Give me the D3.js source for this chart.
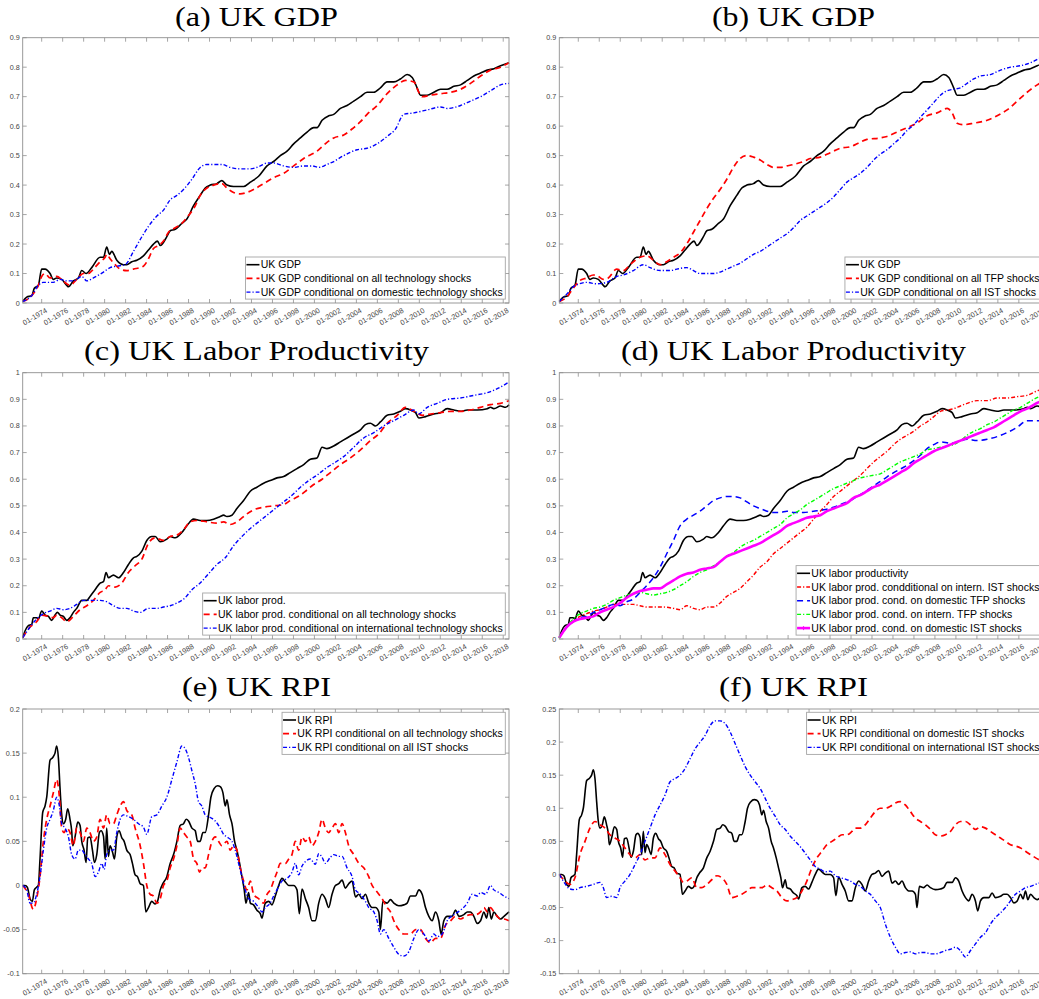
<!DOCTYPE html>
<html>
<head>
<meta charset="utf-8">
<script src="https://cdn.jsdelivr.net/npm/d3@7"></script>
<style>
  body { margin: 0; background: #fff; }
  svg { display: block; }
</style>
</head>
<body>
<div id="vis"></div>
<script>
// x tick years (labels are "01-YYYY")
const tickYears = [1974,1976,1978,1980,1982,1984,1986,1988,1990,1992,1994,1996,1998,2000,2002,2004,2006,2008,2010,2012,2014,2016,2018]

// [decimal year, value]
const gdpUK = [[1972.19,0.005],[1972.57,0.02],[1973.05,0.025],[1973.30,0.05],[1973.68,0.06],[1974.00,0.115],[1974.32,0.115],[1974.80,0.10],[1975.11,0.08],[1975.43,0.085],[1975.91,0.08],[1976.39,0.06],[1976.55,0.055],[1977.02,0.075],[1977.50,0.085],[1977.82,0.11],[1978.23,0.10],[1978.77,0.12],[1979.57,0.155],[1979.89,0.155],[1980.20,0.19],[1980.46,0.165],[1980.68,0.175],[1981.16,0.145],[1981.80,0.13],[1982.11,0.13],[1982.59,0.14],[1983.07,0.145],[1983.70,0.16],[1984.18,0.18],[1984.66,0.20],[1985.04,0.21],[1985.30,0.195],[1985.93,0.225],[1986.25,0.245],[1986.73,0.25],[1987.36,0.27],[1987.84,0.285],[1988.48,0.33],[1989.11,0.365],[1989.59,0.39],[1990.07,0.40],[1990.70,0.405],[1991.18,0.415],[1991.66,0.40],[1992.29,0.395],[1993.25,0.395],[1993.89,0.41],[1994.68,0.43],[1995.48,0.465],[1996.11,0.48],[1996.75,0.50],[1997.39,0.515],[1998.02,0.54],[1998.66,0.56],[1999.30,0.58],[1999.93,0.595],[2000.25,0.595],[2000.73,0.62],[2001.36,0.635],[2001.84,0.64],[2002.48,0.66],[2003.11,0.67],[2003.75,0.685],[2004.39,0.70],[2005.02,0.715],[2005.66,0.715],[2006.29,0.73],[2006.93,0.75],[2007.57,0.75],[2008.20,0.76],[2008.84,0.775],[2009.32,0.765],[2009.79,0.73],[2010.11,0.705],[2010.75,0.705],[2011.39,0.715],[2012.02,0.725],[2012.66,0.725],[2013.29,0.735],[2013.93,0.74],[2014.57,0.755],[2015.20,0.77],[2015.84,0.78],[2016.48,0.79],[2017.11,0.795],[2017.75,0.805],[2018.55,0.815]]
const gdpAllTech = [[1972.19,0.005],[1973.05,0.025],[1973.68,0.06],[1974.00,0.09],[1974.32,0.10],[1974.80,0.085],[1975.43,0.09],[1975.91,0.08],[1976.39,0.065],[1976.70,0.06],[1977.34,0.08],[1977.98,0.10],[1978.45,0.10],[1978.93,0.115],[1979.57,0.14],[1980.05,0.155],[1980.20,0.165],[1980.52,0.15],[1981.00,0.13],[1981.48,0.115],[1982.11,0.11],[1982.75,0.115],[1983.70,0.125],[1984.18,0.15],[1984.66,0.185],[1985.14,0.195],[1985.61,0.21],[1986.09,0.24],[1986.73,0.255],[1987.36,0.27],[1987.84,0.29],[1988.64,0.33],[1989.11,0.365],[1989.75,0.39],[1990.39,0.40],[1991.18,0.405],[1991.66,0.39],[1992.29,0.375],[1992.93,0.37],[1993.57,0.375],[1994.20,0.385],[1995.16,0.405],[1996.11,0.425],[1997.07,0.44],[1998.02,0.465],[1998.98,0.49],[2000.25,0.515],[2001.20,0.545],[2001.84,0.56],[2002.79,0.57],[2003.75,0.595],[2004.39,0.615],[2005.02,0.64],[2005.98,0.67],[2006.93,0.71],[2007.89,0.74],[2008.68,0.755],[2009.48,0.75],[2009.95,0.715],[2010.27,0.70],[2011.07,0.705],[2012.02,0.71],[2012.98,0.715],[2013.93,0.725],[2014.88,0.745],[2015.84,0.77],[2016.79,0.79],[2017.75,0.80],[2018.55,0.815]]
const gdpDomTech = [[1972.19,0.005],[1973.05,0.025],[1973.68,0.06],[1974.16,0.07],[1975.11,0.07],[1975.75,0.08],[1976.39,0.075],[1977.02,0.075],[1977.82,0.09],[1978.30,0.075],[1978.93,0.085],[1979.89,0.105],[1980.52,0.12],[1981.16,0.125],[1981.95,0.13],[1982.75,0.175],[1983.39,0.215],[1984.18,0.26],[1984.98,0.295],[1985.61,0.315],[1986.25,0.35],[1986.89,0.365],[1987.52,0.385],[1988.32,0.42],[1989.11,0.46],[1989.75,0.47],[1990.55,0.47],[1991.18,0.47],[1991.98,0.46],[1992.93,0.455],[1993.89,0.455],[1994.84,0.465],[1995.48,0.475],[1996.11,0.475],[1997.07,0.465],[1998.02,0.46],[1998.98,0.465],[1999.77,0.465],[2000.41,0.46],[2001.20,0.47],[2001.84,0.48],[2002.79,0.50],[2004.07,0.52],[2005.02,0.525],[2005.98,0.54],[2006.93,0.565],[2007.73,0.59],[2008.52,0.64],[2009.48,0.645],[2010.75,0.655],[2012.02,0.665],[2012.66,0.66],[2013.93,0.67],[2014.88,0.685],[2015.84,0.70],[2016.79,0.72],[2017.75,0.74],[2018.55,0.745]]
const gdpTfp = [[1972.19,0.005],[1972.89,0.02],[1973.52,0.05],[1974.10,0.075],[1974.80,0.085],[1975.43,0.095],[1975.91,0.09],[1976.39,0.08],[1976.86,0.085],[1977.66,0.115],[1978.30,0.11],[1978.93,0.13],[1979.89,0.155],[1980.52,0.16],[1981.16,0.145],[1981.80,0.13],[1982.43,0.14],[1983.07,0.155],[1983.70,0.17],[1984.34,0.20],[1984.98,0.24],[1985.61,0.28],[1986.25,0.32],[1986.89,0.355],[1987.52,0.385],[1988.16,0.42],[1988.79,0.46],[1989.43,0.49],[1990.07,0.50],[1990.70,0.495],[1991.34,0.485],[1991.98,0.47],[1992.61,0.46],[1993.25,0.46],[1993.89,0.465],[1994.52,0.47],[1995.48,0.48],[1996.11,0.49],[1997.07,0.495],[1998.02,0.51],[1998.98,0.525],[1999.93,0.53],[2000.57,0.54],[2001.52,0.555],[2002.79,0.56],[2003.43,0.565],[2004.39,0.58],[2005.34,0.595],[2006.29,0.61],[2007.25,0.635],[2008.20,0.645],[2009.16,0.66],[2009.64,0.645],[2010.11,0.61],[2010.75,0.605],[2011.70,0.61],[2012.98,0.62],[2013.93,0.635],[2014.88,0.655],[2015.84,0.685],[2016.79,0.715],[2017.75,0.74],[2018.55,0.755]]
const gdpIst = [[1972.19,0.005],[1972.89,0.03],[1973.52,0.055],[1974.10,0.065],[1974.80,0.07],[1975.75,0.065],[1976.70,0.07],[1977.66,0.09],[1978.30,0.095],[1979.25,0.11],[1980.20,0.13],[1980.84,0.12],[1981.80,0.11],[1982.75,0.11],[1983.39,0.115],[1984.34,0.12],[1984.98,0.11],[1985.61,0.10],[1986.25,0.10],[1986.89,0.10],[1987.52,0.105],[1988.16,0.115],[1988.79,0.125],[1989.43,0.135],[1990.07,0.15],[1990.70,0.165],[1991.34,0.175],[1991.98,0.19],[1992.61,0.205],[1993.25,0.22],[1993.89,0.235],[1994.52,0.255],[1995.16,0.28],[1995.79,0.295],[1996.43,0.31],[1997.07,0.325],[1997.70,0.34],[1998.34,0.36],[1998.98,0.385],[1999.61,0.41],[2000.25,0.425],[2000.89,0.44],[2001.52,0.46],[2002.16,0.485],[2002.79,0.505],[2003.43,0.52],[2004.07,0.54],[2004.70,0.56],[2005.34,0.585],[2005.98,0.605],[2006.61,0.63],[2007.25,0.655],[2007.89,0.68],[2008.52,0.705],[2009.16,0.72],[2009.79,0.725],[2010.43,0.73],[2011.07,0.745],[2011.70,0.76],[2012.34,0.77],[2013.29,0.775],[2014.25,0.79],[2015.20,0.80],[2016.16,0.805],[2017.11,0.815],[2017.97,0.83],[2018.55,0.84]]

const lpUK = [[1972.19,0.005],[1972.41,0.03],[1972.73,0.05],[1973.05,0.055],[1973.20,0.08],[1973.52,0.08],[1973.68,0.075],[1974.00,0.105],[1974.32,0.09],[1974.64,0.085],[1974.95,0.07],[1975.27,0.09],[1975.50,0.10],[1975.75,0.09],[1976.07,0.085],[1976.39,0.07],[1976.70,0.08],[1977.02,0.10],[1977.34,0.115],[1977.82,0.145],[1978.30,0.145],[1978.61,0.16],[1979.09,0.185],[1979.57,0.21],[1979.89,0.215],[1980.14,0.25],[1980.36,0.23],[1980.84,0.24],[1981.32,0.23],[1981.80,0.25],[1982.27,0.28],[1982.75,0.305],[1983.07,0.31],[1983.55,0.33],[1984.02,0.37],[1984.50,0.385],[1984.82,0.385],[1985.30,0.365],[1985.93,0.375],[1986.25,0.385],[1986.73,0.38],[1987.36,0.40],[1987.84,0.425],[1988.48,0.45],[1989.11,0.445],[1989.75,0.445],[1990.39,0.45],[1991.02,0.46],[1991.34,0.465],[1991.66,0.46],[1992.14,0.465],[1992.61,0.49],[1993.25,0.52],[1993.89,0.555],[1994.52,0.57],[1995.16,0.585],[1995.79,0.595],[1996.43,0.605],[1997.07,0.61],[1997.70,0.625],[1998.34,0.64],[1998.98,0.655],[1999.61,0.675],[2000.25,0.68],[2000.73,0.72],[2001.20,0.715],[2001.84,0.725],[2002.48,0.74],[2003.11,0.755],[2003.75,0.77],[2004.39,0.785],[2004.86,0.805],[2005.34,0.81],[2005.82,0.80],[2006.29,0.815],[2006.93,0.84],[2007.57,0.845],[2008.20,0.855],[2008.68,0.865],[2009.16,0.86],[2009.64,0.85],[2009.95,0.83],[2010.59,0.835],[2011.39,0.845],[2012.02,0.85],[2012.66,0.865],[2013.29,0.86],[2013.93,0.855],[2014.57,0.86],[2015.52,0.86],[2016.48,0.865],[2016.79,0.87],[2017.11,0.865],[2017.75,0.875],[2018.23,0.87],[2018.55,0.88]]
const lpAllTech = [[1972.19,0.005],[1972.89,0.045],[1973.52,0.065],[1974.00,0.09],[1974.64,0.085],[1975.11,0.08],[1975.43,0.09],[1975.91,0.08],[1976.39,0.065],[1977.02,0.085],[1977.66,0.11],[1978.30,0.125],[1978.93,0.145],[1979.57,0.175],[1980.05,0.185],[1980.36,0.20],[1981.00,0.195],[1981.64,0.21],[1982.27,0.25],[1982.91,0.275],[1983.55,0.30],[1984.18,0.36],[1984.82,0.38],[1985.61,0.37],[1986.25,0.385],[1986.89,0.39],[1987.52,0.41],[1988.16,0.44],[1988.79,0.445],[1989.75,0.44],[1990.70,0.435],[1991.34,0.44],[1991.98,0.43],[1992.61,0.44],[1993.57,0.47],[1994.20,0.485],[1995.16,0.495],[1996.11,0.50],[1997.07,0.505],[1997.70,0.52],[1998.66,0.54],[1999.30,0.56],[1999.93,0.58],[2000.73,0.60],[2001.52,0.625],[2002.48,0.655],[2003.43,0.68],[2004.39,0.71],[2005.34,0.745],[2006.14,0.77],[2006.93,0.81],[2007.89,0.84],[2008.68,0.87],[2009.48,0.855],[2010.27,0.84],[2011.07,0.845],[2012.02,0.85],[2012.98,0.855],[2013.93,0.855],[2014.88,0.86],[2015.84,0.87],[2016.79,0.88],[2017.75,0.885],[2018.55,0.895]]
const lpIntlTech = [[1972.19,0.005],[1972.89,0.045],[1973.52,0.075],[1974.16,0.095],[1974.80,0.105],[1975.43,0.115],[1976.07,0.11],[1976.70,0.115],[1977.34,0.13],[1977.98,0.145],[1978.61,0.145],[1979.57,0.145],[1980.20,0.14],[1980.84,0.125],[1981.48,0.115],[1982.11,0.115],[1982.75,0.105],[1983.39,0.10],[1984.18,0.115],[1984.98,0.115],[1985.61,0.12],[1986.25,0.125],[1986.89,0.135],[1987.68,0.155],[1988.32,0.185],[1989.11,0.21],[1989.91,0.245],[1990.70,0.28],[1991.50,0.305],[1992.29,0.35],[1993.09,0.385],[1993.89,0.415],[1994.68,0.44],[1995.48,0.465],[1996.27,0.49],[1997.07,0.515],[1997.86,0.54],[1998.66,0.57],[1999.45,0.595],[2000.25,0.615],[2001.04,0.64],[2001.84,0.66],[2002.79,0.685],[2003.75,0.72],[2004.70,0.755],[2005.66,0.775],[2006.61,0.80],[2007.57,0.82],[2008.52,0.84],[2009.48,0.86],[2009.95,0.845],[2010.75,0.87],[2011.70,0.885],[2012.66,0.90],[2013.93,0.905],[2015.20,0.915],[2016.48,0.925],[2017.43,0.94],[2018.55,0.965]]
const lpIntlIst = [[1972.19,0.005],[1972.89,0.045],[1973.52,0.065],[1974.16,0.085],[1974.80,0.095],[1975.43,0.105],[1976.07,0.11],[1976.70,0.12],[1977.34,0.13],[1977.98,0.13],[1978.61,0.13],[1979.25,0.13],[1979.89,0.125],[1980.52,0.12],[1981.16,0.12],[1982.11,0.12],[1983.07,0.115],[1983.70,0.11],[1984.34,0.125],[1984.98,0.115],[1985.61,0.11],[1986.25,0.12],[1986.89,0.12],[1987.52,0.135],[1988.16,0.16],[1988.79,0.175],[1989.43,0.19],[1990.07,0.215],[1990.70,0.24],[1991.34,0.27],[1991.98,0.29],[1992.61,0.32],[1993.25,0.34],[1993.89,0.36],[1994.52,0.38],[1995.16,0.40],[1995.79,0.42],[1996.43,0.45],[1997.07,0.48],[1997.70,0.505],[1998.34,0.535],[1998.98,0.555],[1999.61,0.575],[2000.25,0.595],[2000.89,0.615],[2001.52,0.64],[2002.16,0.665],[2002.79,0.685],[2003.43,0.705],[2004.07,0.73],[2004.70,0.75],[2005.34,0.765],[2005.98,0.78],[2006.61,0.80],[2007.25,0.815],[2007.89,0.835],[2008.52,0.855],[2009.16,0.86],[2009.79,0.865],[2010.43,0.875],[2011.07,0.885],[2012.02,0.895],[2012.98,0.895],[2013.93,0.905],[2014.88,0.905],[2015.84,0.91],[2016.79,0.915],[2017.97,0.935],[2018.55,0.94]]
const lpDomTfp = [[1972.19,0.005],[1972.89,0.045],[1973.52,0.065],[1974.16,0.08],[1974.80,0.085],[1975.43,0.10],[1976.07,0.11],[1976.70,0.12],[1977.34,0.13],[1977.98,0.125],[1978.61,0.14],[1979.25,0.15],[1979.89,0.175],[1980.52,0.20],[1981.16,0.23],[1981.80,0.27],[1982.43,0.32],[1983.07,0.37],[1983.70,0.425],[1984.34,0.45],[1984.98,0.465],[1985.61,0.48],[1986.25,0.50],[1986.89,0.52],[1987.52,0.53],[1988.16,0.535],[1988.79,0.535],[1989.43,0.53],[1990.07,0.515],[1990.70,0.50],[1991.34,0.49],[1991.98,0.48],[1992.61,0.475],[1993.25,0.475],[1993.89,0.48],[1994.52,0.475],[1995.48,0.475],[1996.43,0.48],[1997.39,0.485],[1998.34,0.495],[1999.30,0.51],[1999.93,0.52],[2000.57,0.535],[2001.20,0.55],[2002.16,0.575],[2003.11,0.60],[2004.07,0.625],[2005.02,0.645],[2005.98,0.67],[2006.61,0.69],[2007.25,0.715],[2007.89,0.73],[2008.52,0.74],[2009.48,0.735],[2010.11,0.74],[2011.07,0.75],[2012.02,0.745],[2012.98,0.75],[2013.93,0.76],[2014.88,0.775],[2015.84,0.795],[2016.79,0.82],[2017.75,0.82],[2018.55,0.815]]
const lpIntlTfp = [[1972.19,0.005],[1972.89,0.045],[1973.52,0.075],[1974.16,0.095],[1974.80,0.105],[1975.43,0.115],[1976.07,0.12],[1976.70,0.13],[1977.34,0.145],[1977.98,0.155],[1978.61,0.165],[1979.25,0.17],[1979.89,0.175],[1980.52,0.17],[1981.16,0.165],[1981.80,0.17],[1982.43,0.175],[1983.07,0.185],[1983.70,0.20],[1984.34,0.215],[1984.98,0.235],[1985.61,0.25],[1986.25,0.26],[1986.89,0.275],[1987.52,0.29],[1988.16,0.31],[1988.79,0.325],[1989.43,0.345],[1990.07,0.36],[1990.70,0.37],[1991.34,0.385],[1991.98,0.40],[1992.61,0.415],[1993.25,0.43],[1993.89,0.455],[1994.52,0.47],[1995.16,0.485],[1995.79,0.505],[1996.43,0.52],[1997.07,0.535],[1997.70,0.55],[1998.34,0.565],[1998.98,0.575],[1999.61,0.585],[2000.25,0.595],[2000.89,0.605],[2001.52,0.61],[2002.16,0.615],[2002.79,0.62],[2003.43,0.635],[2004.07,0.65],[2004.70,0.665],[2005.34,0.675],[2005.98,0.685],[2006.61,0.695],[2007.25,0.71],[2007.89,0.715],[2008.52,0.72],[2009.16,0.725],[2009.79,0.73],[2010.43,0.745],[2011.07,0.765],[2011.70,0.78],[2012.34,0.79],[2012.98,0.805],[2013.61,0.815],[2014.25,0.83],[2014.88,0.845],[2015.52,0.86],[2016.16,0.87],[2016.79,0.885],[2017.97,0.91],[2018.55,0.915]]
const lpDomIst = [[1972.19,0.005],[1972.89,0.045],[1973.52,0.065],[1974.16,0.075],[1974.80,0.08],[1975.43,0.085],[1976.07,0.10],[1976.70,0.11],[1977.34,0.12],[1977.98,0.135],[1978.61,0.155],[1979.25,0.17],[1979.89,0.18],[1980.52,0.185],[1981.16,0.19],[1981.80,0.19],[1982.43,0.205],[1983.07,0.22],[1983.70,0.235],[1984.34,0.245],[1984.98,0.25],[1985.61,0.26],[1986.25,0.265],[1986.89,0.27],[1987.52,0.29],[1988.16,0.31],[1988.79,0.32],[1989.43,0.33],[1990.07,0.34],[1990.70,0.35],[1991.34,0.36],[1991.98,0.375],[1992.61,0.39],[1993.25,0.405],[1993.89,0.425],[1994.52,0.435],[1995.16,0.445],[1995.79,0.455],[1996.43,0.46],[1997.07,0.465],[1997.70,0.48],[1998.34,0.49],[1998.98,0.50],[1999.61,0.51],[2000.25,0.53],[2000.89,0.54],[2001.52,0.555],[2002.16,0.57],[2002.79,0.58],[2003.43,0.595],[2004.07,0.61],[2004.70,0.625],[2005.34,0.64],[2005.98,0.66],[2006.61,0.675],[2007.25,0.69],[2007.89,0.705],[2008.52,0.715],[2009.16,0.725],[2009.79,0.735],[2010.43,0.745],[2011.07,0.755],[2011.70,0.765],[2012.34,0.775],[2012.98,0.785],[2013.61,0.795],[2014.25,0.81],[2014.88,0.825],[2015.52,0.84],[2016.16,0.855],[2016.79,0.865],[2017.97,0.89],[2018.55,0.895]]

const rpiUK = [[1972.19,0],[1972.41,0.0],[1972.63,-0.002],[1972.89,-0.015],[1973.11,-0.018],[1973.30,-0.005],[1973.52,-0.002],[1973.68,0.0],[1973.84,0.03],[1974.10,0.083],[1974.32,0.09],[1974.48,0.10],[1974.80,0.142],[1975.05,0.145],[1975.27,0.15],[1975.43,0.158],[1975.59,0.145],[1975.75,0.11],[1975.91,0.08],[1976.07,0.07],[1976.29,0.075],[1976.48,0.087],[1976.70,0.075],[1976.86,0.062],[1976.96,0.045],[1977.18,0.055],[1977.44,0.072],[1977.66,0.068],[1977.82,0.05],[1978.04,0.04],[1978.23,0.026],[1978.39,0.054],[1978.61,0.055],[1978.84,0.04],[1979.03,0.026],[1979.25,0.035],[1979.50,0.06],[1979.66,0.062],[1979.89,0.056],[1980.05,0.03],[1980.20,0.065],[1980.36,0.033],[1980.52,0.045],[1980.75,0.038],[1980.94,0.03],[1981.16,0.055],[1981.38,0.062],[1981.64,0.054],[1981.86,0.05],[1982.11,0.04],[1982.43,0.035],[1982.65,0.025],[1982.91,0.012],[1983.13,0.01],[1983.39,0.002],[1983.70,0.0],[1983.93,-0.03],[1984.18,-0.025],[1984.50,-0.018],[1984.82,-0.021],[1985.04,-0.018],[1985.30,-0.005],[1985.55,0.002],[1985.93,0.01],[1986.25,0.025],[1986.57,0.035],[1986.89,0.05],[1987.20,0.068],[1987.52,0.07],[1987.78,0.075],[1988.00,0.073],[1988.32,0.065],[1988.64,0.062],[1988.86,0.05],[1989.11,0.05],[1989.37,0.06],[1989.59,0.06],[1989.91,0.08],[1990.13,0.10],[1990.45,0.11],[1990.77,0.113],[1991.02,0.112],[1991.28,0.105],[1991.50,0.09],[1991.66,0.097],[1991.91,0.08],[1992.14,0.07],[1992.39,0.05],[1992.61,0.04],[1992.87,0.025],[1993.09,0.01],[1993.31,-0.005],[1993.47,-0.02],[1993.73,-0.008],[1993.89,-0.02],[1994.20,-0.022],[1994.52,-0.028],[1994.84,-0.032],[1995.00,-0.037],[1995.32,-0.02],[1995.64,-0.018],[1995.95,-0.022],[1996.27,-0.012],[1996.59,0.0],[1996.91,0.008],[1997.23,0.004],[1997.55,0.0],[1998.02,0.0],[1998.34,-0.005],[1998.56,-0.032],[1998.82,-0.004],[1999.14,-0.015],[1999.45,-0.025],[1999.77,-0.04],[2000.09,-0.04],[2000.41,-0.02],[2000.73,-0.01],[2001.04,-0.015],[2001.36,-0.025],[2001.68,-0.01],[2002.00,0.0],[2002.32,0.002],[2002.64,0.006],[2002.95,-0.003],[2003.27,0.002],[2003.59,0.005],[2003.91,-0.013],[2004.23,-0.01],[2004.54,-0.015],[2004.86,-0.01],[2005.18,-0.02],[2005.50,-0.025],[2005.82,-0.025],[2006.14,-0.03],[2006.29,-0.05],[2006.52,-0.018],[2006.93,-0.02],[2007.25,-0.016],[2007.57,-0.02],[2008.04,-0.023],[2008.52,-0.022],[2008.84,-0.02],[2009.16,-0.012],[2009.64,-0.012],[2009.95,-0.005],[2010.27,-0.01],[2010.59,-0.025],[2010.91,-0.035],[2011.23,-0.04],[2011.54,-0.03],[2011.86,-0.04],[2012.08,-0.055],[2012.34,-0.04],[2012.66,-0.035],[2013.13,-0.035],[2013.45,-0.028],[2013.77,-0.035],[2014.25,-0.033],[2014.57,-0.03],[2014.88,-0.03],[2015.20,-0.035],[2015.52,-0.043],[2015.84,-0.04],[2016.16,-0.03],[2016.41,-0.037],[2016.63,-0.025],[2016.86,-0.038],[2017.11,-0.03],[2017.43,-0.035],[2017.75,-0.038],[2018.07,-0.035],[2018.55,-0.03]]
const rpiAllTech = [[1972.19,0],[1972.73,-0.01],[1973.20,-0.027],[1973.52,-0.015],[1973.84,0.01],[1974.16,0.05],[1974.48,0.075],[1974.80,0.09],[1975.11,0.105],[1975.43,0.12],[1975.69,0.10],[1975.91,0.065],[1976.13,0.06],[1976.39,0.065],[1976.70,0.06],[1977.02,0.045],[1977.34,0.065],[1977.66,0.06],[1977.98,0.05],[1978.30,0.065],[1978.61,0.06],[1978.93,0.05],[1979.25,0.055],[1979.57,0.075],[1979.89,0.065],[1980.20,0.08],[1980.52,0.07],[1980.84,0.07],[1981.16,0.08],[1981.48,0.09],[1981.80,0.095],[1982.11,0.085],[1982.59,0.08],[1982.91,0.065],[1983.39,0.045],[1983.70,0.025],[1984.02,0.0],[1984.34,-0.01],[1984.66,-0.012],[1984.98,-0.02],[1985.30,-0.015],[1985.61,0.0],[1985.93,0.005],[1986.25,0.02],[1986.57,0.03],[1986.89,0.045],[1987.20,0.065],[1987.52,0.06],[1987.84,0.055],[1988.16,0.05],[1988.48,0.03],[1988.79,0.025],[1989.05,0.015],[1989.27,0.02],[1989.59,0.02],[1989.91,0.035],[1990.23,0.05],[1990.55,0.055],[1990.86,0.05],[1991.18,0.045],[1991.66,0.05],[1991.98,0.04],[1992.29,0.045],[1992.61,0.04],[1992.93,0.02],[1993.25,0.005],[1993.57,-0.005],[1993.89,0.005],[1994.20,-0.01],[1994.68,-0.015],[1995.16,-0.02],[1995.48,-0.01],[1995.79,-0.005],[1996.11,0.005],[1996.43,0.015],[1996.75,0.025],[1997.23,0.025],[1997.55,0.03],[1997.86,0.035],[1998.18,0.05],[1998.50,0.04],[1998.82,0.055],[1999.14,0.05],[1999.45,0.055],[1999.77,0.045],[2000.09,0.05],[2000.41,0.06],[2000.73,0.075],[2001.04,0.065],[2001.36,0.06],[2001.68,0.065],[2002.00,0.07],[2002.32,0.06],[2002.64,0.07],[2002.95,0.06],[2003.27,0.045],[2003.75,0.035],[2004.23,0.025],[2004.70,0.02],[2005.18,0.01],[2005.50,0.0],[2005.82,-0.005],[2006.14,-0.01],[2006.45,-0.015],[2006.93,-0.025],[2007.25,-0.03],[2007.57,-0.04],[2008.04,-0.05],[2008.52,-0.055],[2009.16,-0.055],[2009.64,-0.05],[2010.11,-0.05],[2010.59,-0.06],[2011.07,-0.065],[2011.54,-0.06],[2012.02,-0.06],[2012.50,-0.045],[2012.98,-0.04],[2013.45,-0.035],[2013.93,-0.038],[2014.41,-0.035],[2014.88,-0.033],[2015.36,-0.033],[2015.84,-0.03],[2016.16,-0.025],[2016.48,-0.03],[2016.79,-0.025],[2017.11,-0.03],[2017.43,-0.035],[2017.75,-0.038],[2018.07,-0.038],[2018.55,-0.04]]
const rpiAllIst = [[1972.19,0],[1972.57,-0.005],[1972.89,-0.02],[1973.20,-0.02],[1973.52,-0.01],[1973.84,0.01],[1974.16,0.04],[1974.48,0.065],[1974.80,0.075],[1975.11,0.085],[1975.43,0.10],[1975.69,0.09],[1975.91,0.07],[1976.23,0.065],[1976.55,0.055],[1976.86,0.035],[1977.18,0.03],[1977.50,0.04],[1977.82,0.04],[1978.14,0.035],[1978.45,0.03],[1978.77,0.025],[1979.09,0.01],[1979.41,0.015],[1979.73,0.025],[1979.95,0.018],[1980.20,0.035],[1980.52,0.04],[1980.84,0.04],[1981.16,0.06],[1981.48,0.075],[1981.80,0.08],[1982.27,0.078],[1982.75,0.075],[1983.23,0.07],[1983.70,0.066],[1984.02,0.058],[1984.50,0.078],[1984.98,0.08],[1985.45,0.09],[1985.93,0.10],[1986.41,0.12],[1986.89,0.14],[1987.36,0.158],[1987.68,0.155],[1988.00,0.145],[1988.32,0.13],[1988.64,0.115],[1988.95,0.095],[1989.27,0.09],[1989.59,0.08],[1990.07,0.077],[1990.55,0.073],[1991.02,0.065],[1991.34,0.058],[1991.66,0.055],[1992.14,0.05],[1992.45,0.04],[1992.77,0.025],[1993.09,0.01],[1993.41,-0.005],[1993.73,-0.015],[1994.20,-0.018],[1994.68,-0.025],[1995.00,-0.03],[1995.32,-0.025],[1995.79,-0.02],[1996.11,-0.012],[1996.43,-0.005],[1996.91,0.005],[1997.39,0.008],[1997.86,0.015],[1998.18,0.025],[1998.50,0.012],[1998.82,0.022],[1999.14,0.027],[1999.61,0.03],[2000.09,0.024],[2000.41,0.036],[2000.73,0.032],[2001.04,0.025],[2001.52,0.032],[2001.84,0.035],[2002.32,0.033],[2002.64,0.033],[2003.11,0.02],[2003.59,0.01],[2003.91,-0.005],[2004.39,-0.01],[2004.86,-0.018],[2005.18,-0.025],[2005.66,-0.03],[2005.98,-0.04],[2006.29,-0.055],[2006.61,-0.05],[2007.09,-0.06],[2007.57,-0.07],[2008.04,-0.078],[2008.52,-0.08],[2009.00,-0.075],[2009.48,-0.06],[2009.95,-0.05],[2010.43,-0.055],[2010.91,-0.063],[2011.39,-0.055],[2011.70,-0.058],[2012.18,-0.055],[2012.66,-0.04],[2013.29,-0.033],[2013.93,-0.028],[2014.57,-0.02],[2015.04,-0.01],[2015.52,-0.012],[2015.84,-0.008],[2016.32,-0.01],[2016.79,0.0],[2017.11,-0.005],[2017.59,-0.008],[2018.07,-0.012],[2018.55,-0.015]]
const rpiDomIst = [[1972.19,0.0],[1972.73,-0.01],[1973.20,-0.015],[1973.68,-0.005],[1974.16,0.03],[1974.64,0.05],[1975.11,0.07],[1975.59,0.08],[1976.07,0.075],[1976.55,0.07],[1977.02,0.06],[1977.50,0.055],[1977.98,0.05],[1978.45,0.04],[1978.93,0.03],[1979.41,0.025],[1979.89,0.03],[1980.36,0.022],[1980.84,0.025],[1981.32,0.025],[1981.80,0.04],[1982.27,0.03],[1982.75,0.015],[1983.23,0.005],[1983.70,-0.005],[1984.02,-0.012],[1984.34,-0.01],[1984.82,-0.005],[1985.30,-0.02],[1985.77,-0.02],[1986.25,-0.015],[1986.73,-0.008],[1987.20,-0.002],[1987.68,-0.005],[1988.16,-0.015],[1988.64,-0.035],[1989.11,-0.033],[1989.59,-0.03],[1990.07,-0.025],[1990.55,-0.02],[1991.02,-0.02],[1991.50,-0.02],[1991.98,-0.016],[1992.45,-0.02],[1992.93,-0.025],[1993.41,-0.035],[1993.89,-0.04],[1994.36,-0.038],[1994.84,-0.035],[1995.32,-0.025],[1995.79,-0.01],[1996.27,0.01],[1996.75,0.025],[1997.23,0.035],[1997.70,0.045],[1998.18,0.05],[1998.66,0.055],[1999.14,0.06],[1999.61,0.06],[2000.09,0.065],[2000.41,0.07],[2000.89,0.07],[2001.36,0.075],[2001.84,0.085],[2002.32,0.095],[2002.79,0.10],[2003.27,0.10],[2003.75,0.103],[2004.23,0.108],[2004.70,0.11],[2005.18,0.105],[2005.66,0.095],[2006.14,0.085],[2006.61,0.08],[2007.09,0.075],[2007.57,0.068],[2008.04,0.06],[2008.52,0.058],[2009.00,0.06],[2009.48,0.065],[2009.95,0.075],[2010.43,0.08],[2010.91,0.08],[2011.39,0.075],[2011.86,0.068],[2012.34,0.072],[2012.82,0.07],[2013.29,0.065],[2013.77,0.06],[2014.25,0.055],[2014.73,0.05],[2015.20,0.045],[2015.68,0.043],[2016.16,0.04],[2016.63,0.035],[2017.11,0.03],[2017.97,0.022],[2018.55,0.02]]
const rpiIntlIst = [[1972.19,0.0],[1972.57,-0.01],[1973.20,-0.022],[1973.68,-0.023],[1974.16,-0.02],[1974.80,-0.018],[1975.43,-0.015],[1976.07,-0.012],[1976.39,-0.02],[1976.70,-0.035],[1977.18,-0.033],[1977.66,-0.035],[1977.98,-0.02],[1978.45,-0.01],[1978.93,0.0],[1979.41,0.015],[1979.89,0.03],[1980.36,0.05],[1980.84,0.07],[1981.32,0.09],[1981.80,0.105],[1982.27,0.12],[1982.75,0.14],[1983.23,0.145],[1983.70,0.15],[1984.18,0.16],[1984.66,0.175],[1985.14,0.19],[1985.61,0.20],[1986.09,0.21],[1986.57,0.225],[1987.04,0.232],[1987.52,0.232],[1988.00,0.228],[1988.48,0.215],[1988.95,0.198],[1989.43,0.18],[1989.91,0.163],[1990.39,0.15],[1990.86,0.14],[1991.34,0.13],[1991.82,0.115],[1992.29,0.10],[1992.77,0.088],[1993.25,0.075],[1993.73,0.068],[1994.20,0.058],[1994.68,0.05],[1995.16,0.042],[1995.64,0.032],[1996.11,0.022],[1996.59,0.012],[1997.07,0.008],[1997.55,0.004],[1998.02,0.005],[1998.50,-0.002],[1998.98,-0.005],[1999.45,-0.007],[1999.93,-0.01],[2000.41,-0.015],[2000.89,-0.018],[2001.36,-0.025],[2001.84,-0.03],[2002.32,-0.04],[2002.79,-0.05],[2003.27,-0.075],[2003.75,-0.095],[2004.23,-0.11],[2004.70,-0.12],[2005.18,-0.118],[2005.66,-0.117],[2006.14,-0.12],[2006.61,-0.118],[2007.09,-0.118],[2007.57,-0.12],[2008.04,-0.12],[2008.52,-0.118],[2009.00,-0.115],[2009.48,-0.113],[2009.95,-0.11],[2010.43,-0.115],[2010.91,-0.125],[2011.39,-0.115],[2011.86,-0.105],[2012.34,-0.095],[2012.82,-0.088],[2013.29,-0.075],[2013.77,-0.065],[2014.25,-0.058],[2014.73,-0.05],[2015.20,-0.04],[2015.68,-0.03],[2016.16,-0.025],[2016.63,-0.02],[2017.11,-0.018],[2017.97,-0.013],[2018.55,-0.012]]

// y ticks per panel
const yTicksGdp = [0,0.1,0.2,0.3,0.4,0.5,0.6,0.7,0.8,0.9]
const yTicksLp = [0,0.1,0.2,0.3,0.4,0.5,0.6,0.7,0.8,0.9,1]
const yTicksRpiE = [-0.1,-0.05,0,0.05,0.1,0.15,0.2]
const yTicksRpiF = [-0.15,-0.1,-0.05,0,0.05,0.1,0.15,0.2,0.25]

// line styles (MATLAB look)
const sBlack = {color:'#000000', w:1.6, dash:null}
const sRedDash = {color:'#ff0000', w:1.7, dash:'6,4'}
const sBlueDashDot = {color:'#0000ff', w:1.4, dash:'4,2,1.2,2'}
const sRedDashDot = {color:'#ff0000', w:1.4, dash:'4,2,1.2,2'}
const sBlueDash = {color:'#0000ff', w:1.5, dash:'6,4'}
const sGreenDashDot = {color:'#00ff00', w:1.4, dash:'4,2,1.2,2'}
const sMagenta = {color:'#ff00ff', w:2.6, dash:null, marker:true}

const panels = [
	{title:'(a) UK GDP', titleW:163, col:0, row:0, yDomain:[0,0.9], yTicks:yTicksGdp, legend:'bottom',
	 series:[[gdpUK,sBlack,'UK GDP'],[gdpAllTech,sRedDash,'UK GDP conditional on all technology shocks'],[gdpDomTech,sBlueDashDot,'UK GDP conditional on domestic technology shocks']]},
	{title:'(b) UK GDP', titleW:163, col:1, row:0, yDomain:[0,0.9], yTicks:yTicksGdp, legend:'bottom',
	 series:[[gdpUK,sBlack,'UK GDP'],[gdpTfp,sRedDash,'UK GDP conditional on all TFP shocks'],[gdpIst,sBlueDashDot,'UK GDP conditional on all IST shocks']]},
	{title:'(c) UK Labor Productivity', titleW:345, col:0, row:1, yDomain:[0,1], yTicks:yTicksLp, legend:'bottom',
	 series:[[lpUK,sBlack,'UK labor prod.'],[lpAllTech,sRedDash,'UK labor prod. conditional on all technology shocks'],[lpIntlTech,sBlueDashDot,'UK labor prod. conditional on international technology shocks']]},
	{title:'(d) UK Labor Productivity', titleW:345, col:1, row:1, yDomain:[0,1], yTicks:yTicksLp, legend:'bottom',
	 series:[[lpUK,sBlack,'UK labor productivity'],[lpIntlIst,sRedDashDot,'UK labor prod. condditional on intern. IST shocks'],[lpDomTfp,sBlueDash,'UK labor prod. cond. on domestic TFP shocks'],[lpIntlTfp,sGreenDashDot,'UK labor prod. cond. on intern. TFP shocks'],[lpDomIst,sMagenta,'UK labor prod. cond. on domestic IST shocks']]},
	{title:'(e) UK RPI', titleW:149, col:0, row:2, yDomain:[-0.1,0.2], yTicks:yTicksRpiE, legend:'top',
	 series:[[rpiUK,sBlack,'UK RPI'],[rpiAllTech,sRedDash,'UK RPI conditional on all technology shocks'],[rpiAllIst,sBlueDashDot,'UK RPI conditional on all IST shocks']]},
	{title:'(f) UK RPI', titleW:149, col:1, row:2, yDomain:[-0.15,0.25], yTicks:yTicksRpiF, legend:'top',
	 series:[[rpiUK,sBlack,'UK RPI'],[rpiDomIst,sRedDash,'UK RPI conditional on domestic IST shocks'],[rpiIntlIst,sBlueDashDot,'UK RPI conditional on international IST shocks']]}
]

// layout
const colLeft = [22.7, 559.3], plotW = 486.3
const rowTop = [37.7, 372.7, 709], rowH = [265.3, 266.3, 264.7]
const titleY = [26, 360, 695.7], titleX = [256.5, 793.5]
const axisGray = '#8f8f8f', labelGray = '#444'
const tickFont = '"Liberation Sans", Arial, sans-serif'

const svg = d3.select('#vis').append('svg')
	.attr('width', 1039)
	.attr('height', 999)

panels.forEach(drawPanel)

function drawPanel(p) {
	const x0 = colLeft[p.col], y0 = rowTop[p.row]
	const w = plotW, h = rowH[p.row]

	const x = d3.scaleLinear([1972.19, 2018.55], [x0, x0 + w])
	const y = d3.scaleLinear(p.yDomain, [y0 + h, y0])

	// title
	svg.append('text')
		.attr('x', titleX[p.col])
		.attr('y', titleY[p.row])
		.attr('text-anchor', 'middle')
		.attr('font-family', '"Liberation Serif", "Times New Roman", serif')
		.attr('font-size', 27)
		.attr('textLength', p.titleW)
		.attr('lengthAdjust', 'spacingAndGlyphs')
		.attr('fill', '#000')
		.text(p.title)

	const g = svg.append('g')

	g.append('rect')
		.attr('x', x0).attr('y', y0).attr('width', w).attr('height', h)
		.attr('fill', '#fff')

	// ticks (inward, all four sides)
	const tl = 4
	tickYears.forEach(t => {
		const xx = x(t)
		g.append('line').attr('x1', xx).attr('x2', xx).attr('y1', y0 + h).attr('y2', y0 + h - tl)
			.attr('stroke', axisGray).attr('stroke-width', 0.8)
		g.append('line').attr('x1', xx).attr('x2', xx).attr('y1', y0).attr('y2', y0 + tl)
			.attr('stroke', axisGray).attr('stroke-width', 0.8)
		g.append('text')
			.attr('transform', `translate(${xx + 6},${y0 + h + 9}) rotate(-30)`)
			.attr('text-anchor', 'end')
			.attr('font-family', tickFont)
			.attr('font-size', 7.3)
			.attr('fill', labelGray)
			.text('01-' + t)
	})
	p.yTicks.forEach(v => {
		const yy = y(v)
		g.append('line').attr('x1', x0).attr('x2', x0 + tl).attr('y1', yy).attr('y2', yy)
			.attr('stroke', axisGray).attr('stroke-width', 0.8)
		g.append('line').attr('x1', x0 + w).attr('x2', x0 + w - tl).attr('y1', yy).attr('y2', yy)
			.attr('stroke', axisGray).attr('stroke-width', 0.8)
		g.append('text')
			.attr('x', x0 - 3)
			.attr('y', yy + 2.5)
			.attr('text-anchor', 'end')
			.attr('font-family', tickFont)
			.attr('font-size', 7.2)
			.attr('fill', labelGray)
			.text(String(+v.toFixed(2)))
	})

	// lines
	const line = d3.line()
		.x(d => x(d[0]))
		.y(d => y(d[1]))
		.curve(d3.curveMonotoneX)

	p.series.forEach(s => {
		g.append('path')
			.datum(s[0])
			.attr('d', line)
			.attr('fill', 'none')
			.attr('stroke', s[1].color)
			.attr('stroke-width', s[1].w)
			.attr('stroke-dasharray', s[1].dash)
			.attr('stroke-linejoin', 'round')
	})

	g.append('rect')
		.attr('x', x0).attr('y', y0).attr('width', w).attr('height', h)
		.attr('fill', 'none')
		.attr('stroke', axisGray)
		.attr('stroke-width', 0.9)

	drawLegend(p, x0, y0, w, h)
}

function drawLegend(p, x0, y0, w, h) {
	const rowStep = 13.7, fs = 10.5
	const lg = svg.append('g')
	const texts = p.series.map((s, i) => lg.append('text')
		.attr('font-family', tickFont)
		.attr('font-size', fs)
		.attr('fill', '#000')
		.text(s[2]))
	const maxW = d3.max(texts, t => t.node().getComputedTextLength())
	const boxW = 15.3 + maxW + 2.5
	const boxH = p.series.length * rowStep + 1
	const bx = x0 + w - 3.7 - boxW
	const by = p.legend == 'top' ? y0 + 3.3 : y0 + h - 3.9 - boxH

	lg.insert('rect', 'text')
		.attr('x', bx).attr('y', by).attr('width', boxW).attr('height', boxH)
		.attr('fill', '#fff')
		.attr('stroke', '#a5a5a5')
		.attr('stroke-width', 0.9)

	p.series.forEach((s, i) => {
		const cy = by + 7.7 + i * rowStep
		lg.append('line')
			.attr('x1', bx + 1).attr('x2', bx + 14)
			.attr('y1', cy).attr('y2', cy)
			.attr('stroke', s[1].color)
			.attr('stroke-width', s[1].w)
			.attr('stroke-dasharray', s[1].dash)
		if (s[1].marker) {
			lg.append('path')
				.attr('d', `M${bx + 7.5 - 2},${cy}h4M${bx + 7.5},${cy - 2}v4`)
				.attr('stroke', s[1].color)
				.attr('stroke-width', 1)
		}
		texts[i]
			.attr('x', bx + 15.3)
			.attr('y', cy + 3.7)
	})
}
</script>
</body>
</html>
